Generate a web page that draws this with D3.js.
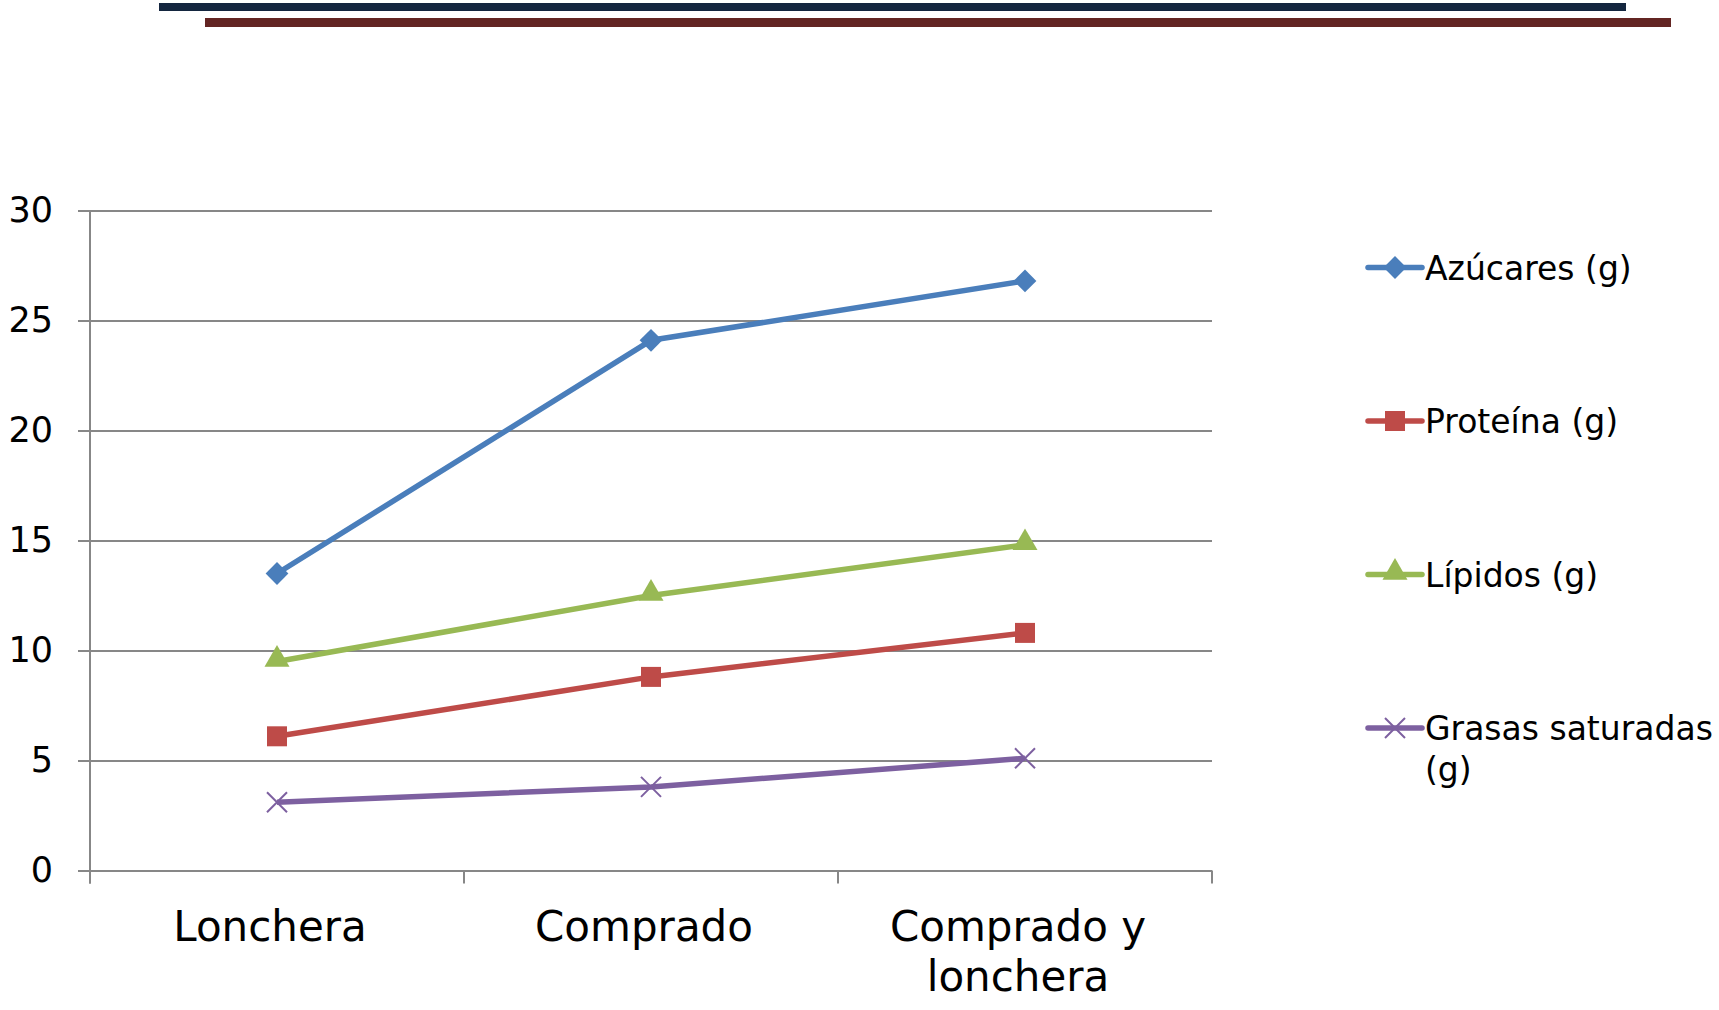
<!DOCTYPE html>
<html>
<head>
<meta charset="utf-8">
<script src="https://cdn.jsdelivr.net/npm/d3@7"></script>
<style>
  body { margin: 0; background: #fff; }
  svg { display: block; font-family: 'DejaVu Sans', Verdana, sans-serif; }
</style>
</head>
<body>
<svg id="chart"></svg>
<script>
// categories and series
let categories = ['Lonchera', 'Comprado', 'Comprado y lonchera']
let seriesNames = ['Azúcares (g)', 'Proteína (g)', 'Lípidos (g)', 'Grasas saturadas (g)']
let azucares = [13.5, 24.1, 26.8]
let proteina = [6.1, 8.8, 10.8]
let lipidos = [9.5, 12.5, 14.8]
let grasas = [3.1, 3.8, 5.1]
let yTicks = [0, 5, 10, 15, 20, 25, 30]

let colors = ['#4A7EBB', '#BE4B48', '#98B954', '#7D60A0']
let symbols = ['diamond', 'square', 'triangle', 'cross']

let series = [azucares, proteina, lipidos, grasas].map(function (v, i) {
  return {name: seriesNames[i], values: v, color: colors[i], symbol: symbols[i]}
})

const W = 1719
const H = 1010
let svg = d3.select('#chart').attr('width', W).attr('height', H)

// decorative rules at the top
svg.append('rect').attr('x', 159).attr('y', 3).attr('width', 1467).attr('height', 8).attr('fill', '#14263F')
svg.append('rect').attr('x', 205).attr('y', 18).attr('width', 1466).attr('height', 9).attr('fill', '#632523')

let plot = {left: 90, right: 1212, top: 210.5, bottom: 870.5}

let x = d3.scaleBand()
  .domain(categories)
  .range([plot.left, plot.right])
  .padding(0)

let y = d3.scaleLinear()
  .domain([0, 30])
  .range([plot.bottom, plot.top])

// gridlines + y labels
let yAxis = svg.append('g')
  .attr('transform', 'translate(' + plot.left + ',0)')
  .call(d3.axisLeft(y).tickValues(yTicks).tickSize(-(plot.right - plot.left)).tickPadding(0))
yAxis.select('.domain').remove()
yAxis.selectAll('.tick line')
  .attr('x1', -12)
  .attr('stroke', '#878787')
  .attr('stroke-width', 2)
yAxis.selectAll('.tick text')
  .attr('x', -37)
  .attr('font-size', 35)
  .attr('fill', '#000')
  .attr('font-family', "'DejaVu Sans', Verdana, sans-serif")

// vertical axis line
svg.append('line')
  .attr('x1', plot.left).attr('x2', plot.left)
  .attr('y1', plot.top).attr('y2', plot.bottom + 13)
  .attr('stroke', '#878787').attr('stroke-width', 2)

// category axis ticks
let bounds = categories.map(function (c) { return x(c) + x.bandwidth() }).concat([plot.left])
svg.append('g').selectAll('line')
  .data(bounds)
  .join('line')
  .attr('x1', function (d) { return d }).attr('x2', function (d) { return d })
  .attr('y1', plot.bottom).attr('y2', plot.bottom + 13)
  .attr('stroke', '#878787').attr('stroke-width', 2)

// category labels (wrapped like the original)
let catLines = {'Comprado y lonchera': ['Comprado y', 'lonchera']}
svg.append('g').selectAll('text')
  .data(categories)
  .join('text')
  .attr('x', function (d) { return x(d) + x.bandwidth() / 2 - 7 })
  .attr('y', 941)
  .attr('text-anchor', 'middle')
  .attr('font-size', 42)
  .attr('fill', '#000')
  .each(function (d) {
    let lines = catLines[d] || [d]
    let t = d3.select(this)
    lines.forEach(function (l, i) {
      t.append('tspan')
        .attr('x', x(d) + x.bandwidth() / 2 - 7)
        .attr('dy', i === 0 ? 0 : 50)
        .text(l)
    })
  })

function markerPath (sym) {
  if (sym === 'diamond') return d3.symbol(d3.symbolDiamond2, 330)()
  if (sym === 'square') return d3.symbol(d3.symbolSquare, 400)()
  if (sym === 'triangle') return d3.symbol(d3.symbolTriangle, 270)()
  return 'M-10,-10L10,10M-10,10L10,-10'
}

function drawMarker (g, s) {
  let p = g.append('path').attr('d', markerPath(s.symbol))
  if (s.symbol === 'cross') {
    p.attr('fill', 'none').attr('stroke', s.color).attr('stroke-width', 2)
  } else {
    p.attr('fill', s.color)
  }
  if (s.symbol === 'triangle') p.attr('transform', 'translate(0,-2)')
}

let line = d3.line()
  .x(function (d, i) { return x(categories[i]) + x.bandwidth() / 2 })
  .y(function (d) { return y(d) })

series.forEach(function (s) {
  let g = svg.append('g')
  g.append('path')
    .attr('d', line(s.values))
    .attr('fill', 'none')
    .attr('stroke', s.color)
    .attr('stroke-width', 5.5)
    .attr('stroke-linejoin', 'round')
  s.values.forEach(function (v, i) {
    let m = g.append('g')
      .attr('transform', 'translate(' + (x(categories[i]) + x.bandwidth() / 2) + ',' + y(v) + ')')
    drawMarker(m, s)
  })
})

// legend
let legendY = [267.5, 421, 574.5, 728]
let legendText = [['Azúcares (g)'], ['Proteína (g)'], ['Lípidos (g)'], ['Grasas saturadas', '(g)']]
series.forEach(function (s, i) {
  let g = svg.append('g').attr('transform', 'translate(0,' + legendY[i] + ')')
  g.append('line')
    .attr('x1', 1368).attr('x2', 1422)
    .attr('stroke', s.color).attr('stroke-width', 5.5)
    .attr('stroke-linecap', 'round')
  let m = g.append('g').attr('transform', 'translate(1395,0)')
  drawMarker(m, s)
  let t = g.append('text')
    .attr('x', 1425)
    .attr('y', 12)
    .attr('font-size', 33)
    .attr('fill', '#000')
  legendText[i].forEach(function (l, j) {
    t.append('tspan').attr('x', 1425).attr('dy', j === 0 ? 0 : 41).text(l)
  })
})
</script>
</body>
</html>
